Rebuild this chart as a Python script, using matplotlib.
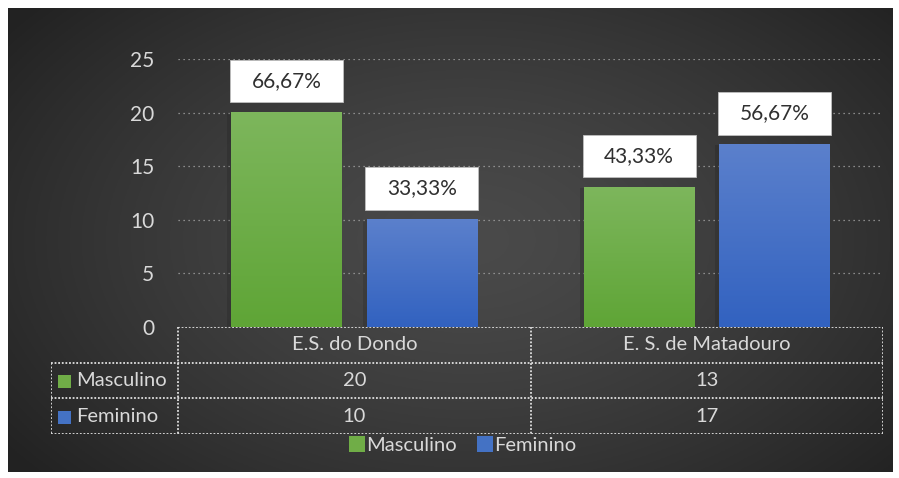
import numpy as np
import matplotlib
matplotlib.use('Agg')
import matplotlib.pyplot as plt
from matplotlib.patches import Rectangle
from matplotlib.lines import Line2D

plt.rcParams['font.family'] = ['Lato', 'DejaVu Sans']

# dados
escolas = ['E.S. do Dondo', 'E. S. de Matadouro']
series = ['Masculino', 'Feminino']
masculino = [20, 13]
feminino = [10, 17]
percent_masc = ['66,67%', '43,33%']
percent_fem = ['33,33%', '56,67%']
yticks = [0, 5, 10, 15, 20, 25]

cores_top = ['#7db65c', '#5b80cc']
cores_bot = ['#5fa536', '#3262c0']
cores_leg = ['#70ad47', '#4472c4']
txt = '#d9d9d9'

W, H = 899, 478
fig = plt.figure(figsize=(W / 100, H / 100), dpi=100)
fig.patch.set_facecolor('white')

# fundo escuro com gradiente radial
bg = fig.add_axes([8 / W, 1 - 472 / H, 885 / W, 464 / H])
yy, xx = np.mgrid[0:1:200j, 0:1:380j]
r = np.sqrt(((xx - 0.52) * 1.2) ** 2 + (yy - 0.5) ** 2)
r = np.clip(r / 0.78, 0, 1)
v = 0x4a / 255 - (0x4a - 0x22) / 255 * r ** 1.4
img = np.dstack([v, v, v])
bg.imshow(img, aspect='auto', extent=[0, 1, 0, 1], origin='lower')
bg.set_axis_off()

# grafico principal
ax = fig.add_axes([178 / W, 1 - 327 / H, 705 / W, 268 / H])
ax.set_facecolor('none')
x = np.arange(len(escolas))
bw = 0.3125
off = 0.192
grad = np.linspace(0, 1, 100).reshape(-1, 1)


def barra(xc, h, top, bot):
    c0 = np.array(matplotlib.colors.to_rgb(bot))
    c1 = np.array(matplotlib.colors.to_rgb(top))
    g = c0 + (c1 - c0) * grad[..., None]
    ax.imshow(g, aspect='auto', origin='lower',
              extent=[xc - bw / 2, xc + bw / 2, 0, h], zorder=3)
    # sombra
    ax.add_patch(Rectangle((xc - bw / 2 - 0.012, 0), 0.012, h,
                           color='black', alpha=0.12, zorder=2, lw=0))


def rotulo(xc, h, s):
    gap, bh = 0.95, 4.0
    ax.add_patch(Rectangle((xc - bw / 2 - 0.004, h + gap), bw + 0.008, bh,
                           facecolor='white', edgecolor='#bfbfbf', lw=0.6,
                           zorder=5))
    ax.text(xc, h + gap + bh / 2, s, ha='center', va='center',
            fontsize=15, color='#303030', zorder=6)


for i in range(len(escolas)):
    barra(x[i] - off, masculino[i], cores_top[0], cores_bot[0])
    barra(x[i] + off, feminino[i], cores_top[1], cores_bot[1])
    rotulo(x[i] - off, masculino[i], percent_masc[i])
    rotulo(x[i] + off, feminino[i], percent_fem[i])

ax.set_xlim(-0.5, len(escolas) - 0.5)
ax.set_ylim(0, 25)
ax.set_yticks(yticks)
ax.set_yticklabels([str(t) for t in yticks], fontsize=15, color=txt)
ax.tick_params(axis='y', length=0, pad=17)
ax.set_xticks([])
for s in ax.spines.values():
    s.set_visible(False)
ax.yaxis.grid(True, color='#a6a6a6', linestyle=(0, (1, 3)), lw=0.9, zorder=1)
ax.set_axisbelow(True)

# tabela de dados
tab = fig.add_axes([51 / W, 1 - 434 / H, 832 / W, 107 / H])
tab.set_facecolor('none')
hw = 127 / 352.5
tab.set_xlim(-0.5 - hw, len(escolas) - 0.5)
tab.set_ylim(3, 0)
tab.set_axis_off()
ls = dict(color='#e0e0e0', linestyle=(0, (1, 1)), lw=1.3)
xr = len(escolas) - 0.5
tab.plot([-0.5, xr], [0, 0], **ls)
for yv in [1, 2, 3]:
    tab.plot([-0.5 - hw, xr], [yv, yv], **ls)
tab.plot([-0.5 - hw, -0.5 - hw], [1, 3], **ls)
for xv in np.arange(-0.5, len(escolas)):
    tab.plot([xv, xv], [0, 3], **ls)
for i, nome in enumerate(escolas):
    tab.text(x[i], 0.5, nome, ha='center', va='center', fontsize=14.5, color=txt)
    tab.text(x[i], 1.5, str(masculino[i]), ha='center', va='center', fontsize=14.5, color=txt)
    tab.text(x[i], 2.5, str(feminino[i]), ha='center', va='center', fontsize=14.5, color=txt)
for j, nome in enumerate(series):
    tab.add_patch(Rectangle((-0.5 - hw + 0.019, 1.35 + j), 0.039, 0.36,
                            color=cores_leg[j], lw=0))
    tab.text(-0.5 - hw + 0.072, 1.5 + j, nome, ha='left', va='center',
             fontsize=14.5, color=txt)

# legenda
handles = [Line2D([], [], marker='s', ls='', markersize=11,
                  markerfacecolor=c, markeredgewidth=0) for c in cores_leg]
fig.legend(handles, series, loc='center', bbox_to_anchor=(463 / W, 1 - 445 / H),
           ncol=2, frameon=False, fontsize=14.5, labelcolor=txt,
           handletextpad=0.05, columnspacing=1.0, handlelength=0.8)

plt.savefig('out.png', dpi=100, facecolor=fig.get_facecolor())
